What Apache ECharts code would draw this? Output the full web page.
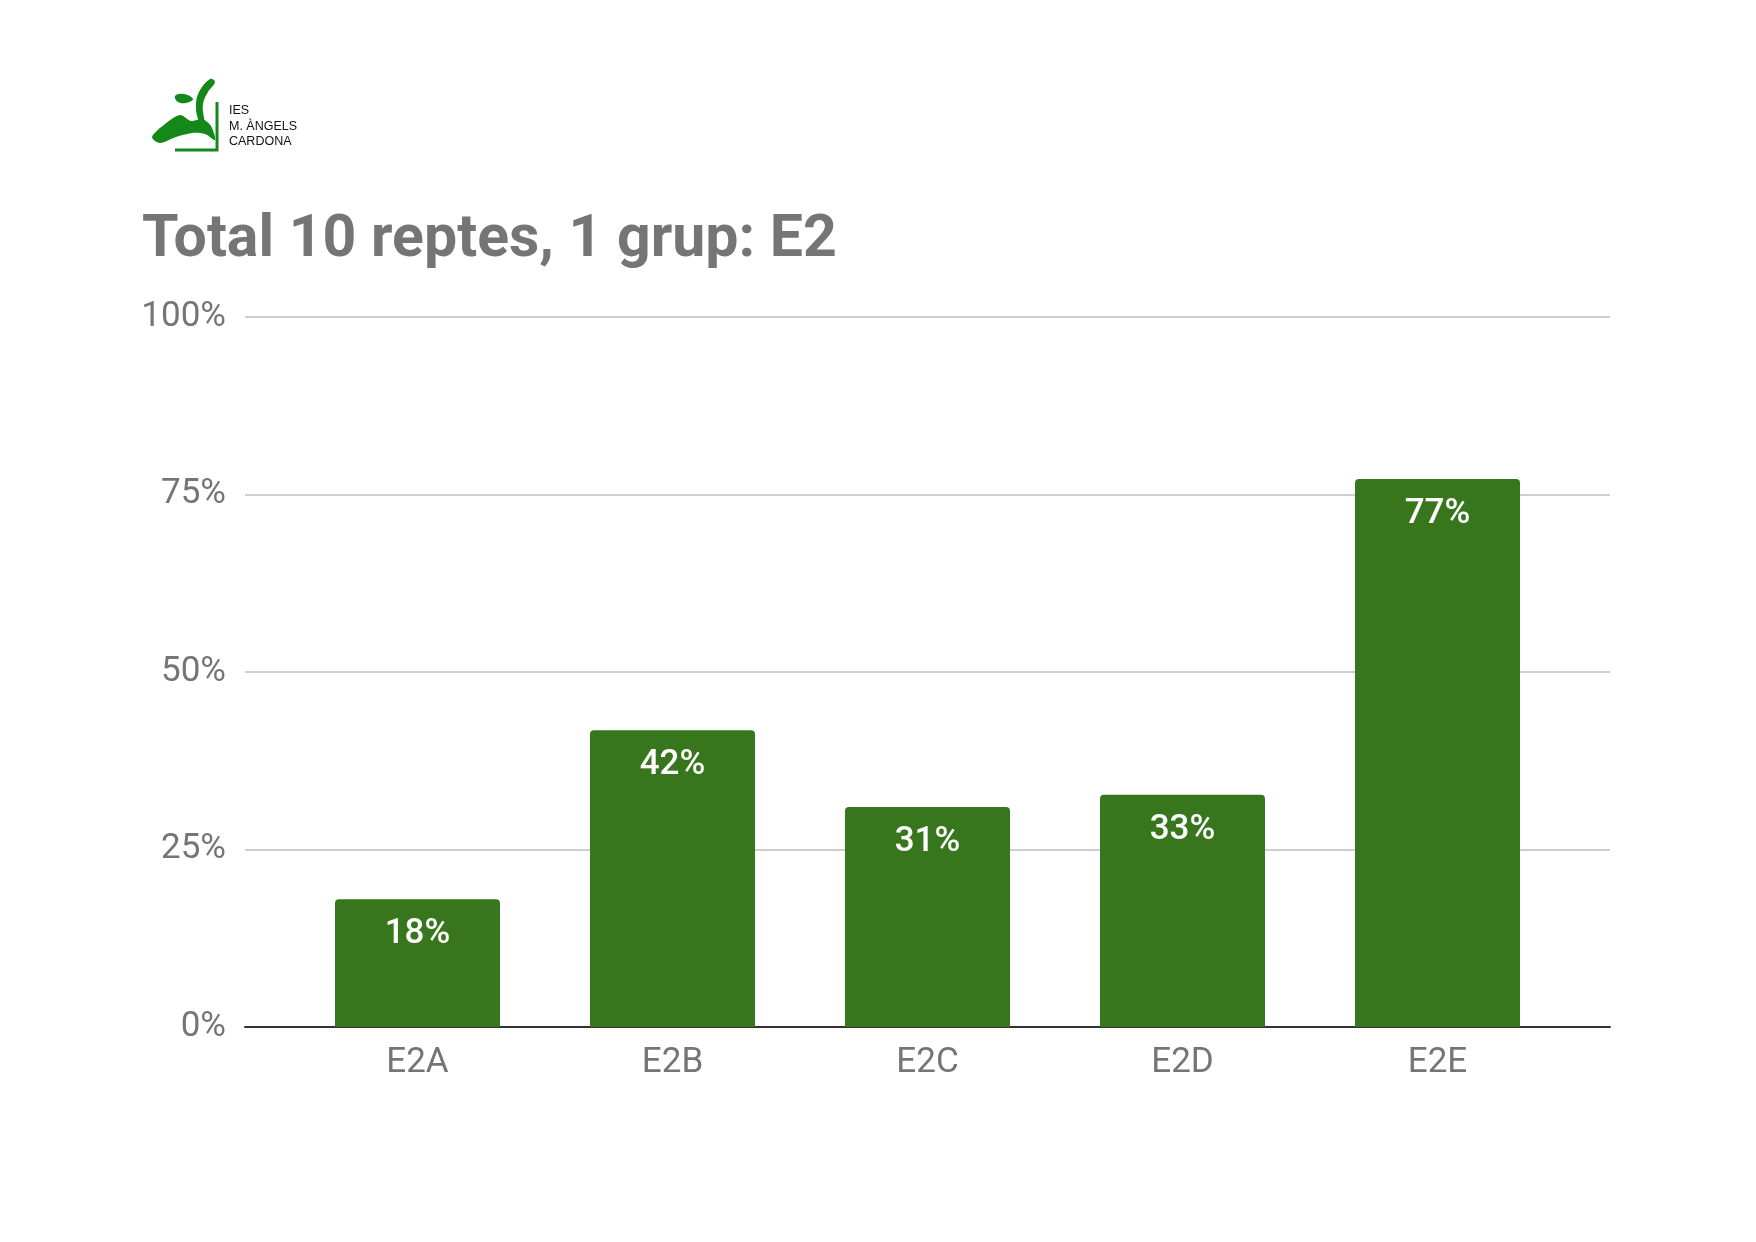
<!DOCTYPE html>
<html>
<head>
<meta charset="utf-8">
<script src="https://cdn.jsdelivr.net/npm/echarts@6/dist/echarts.min.js"></script>
<style>
  html, body { margin: 0; padding: 0; background: #ffffff; }
  #chart { width: 1756px; height: 1242px; }
</style>
</head>
<body>
<div id="chart"></div>
<script>
// Data
const categories = ['E2A', 'E2B', 'E2C', 'E2D', 'E2E'];
const values = [18.0, 41.8, 31.0, 32.7, 77.2];
const yTicks = [0, 25, 50, 75, 100];
const titleText = 'Total 10 reptes, 1 grup: E2';
const logoLines = ['IES', 'M. ÀNGELS', 'CARDONA'];

const chart = echarts.init(document.getElementById('chart'));
const gray = '#757575';
const green = '#38761d';
const logoGreen = '#14891a';
const logoFont = "'Liberation Sans', sans-serif";

const option = {
  backgroundColor: '#ffffff',
  animation: false,
  textStyle: { fontFamily: 'Roboto' },
  title: {
    text: titleText,
    left: 137,
    top: 207,
    textStyle: { fontFamily: 'Roboto', fontWeight: 'bold', fontSize: 59, color: gray }
  },
  grid: [
    { left: 245, right: 146, top: 317, bottom: 215 },
    { left: 290, right: 191, top: 317, bottom: 215 }
  ],
  xAxis: [
    {
      gridIndex: 0, type: 'category', data: categories,
      axisLine: { show: true, lineStyle: { color: '#333333', width: 2 } },
      axisTick: { show: false }, axisLabel: { show: false }, splitLine: { show: false }
    },
    {
      gridIndex: 1, type: 'category', data: categories,
      axisLine: { show: false }, axisTick: { show: false },
      axisLabel: { show: true, color: gray, fontSize: 35, fontFamily: 'Roboto', margin: 19 }
    }
  ],
  yAxis: [
    {
      gridIndex: 0, type: 'value', min: 0, max: 100, interval: 25,
      axisLine: { show: false }, axisTick: { show: false },
      axisLabel: { color: gray, fontSize: 35, fontFamily: 'Roboto', margin: 19,
        padding: [10, 0, 0, 0],
        formatter: v => yTicks.includes(v) ? v + '%' : '' },
      splitLine: { show: true, lineStyle: { color: '#cfcfcf', width: 2 } }
    },
    {
      gridIndex: 1, type: 'value', min: 0, max: 100, interval: 25, show: false,
      splitLine: { show: false }
    }
  ],
  series: [
    {
      type: 'bar',
      xAxisIndex: 1, yAxisIndex: 1,
      data: values,
      barWidth: 165,
      itemStyle: { color: green, borderRadius: [4, 4, 0, 0] },
      label: {
        show: true, position: 'insideTop', distance: 18,
        color: '#ffffff', fontSize: 35, fontWeight: 500, fontFamily: 'Roboto',
        formatter: p => Math.round(p.value) + '%'
      },
      z: 2
    }
  ],
  graphic: [
    // logo bracket
    { type: 'polyline', shape: { points: [[217, 102], [217, 150], [175, 150]] },
      style: { stroke: logoGreen, lineWidth: 3, fill: null } },
    // curved brush stroke
    { type: 'polygon', shape: { smooth: 0.4, points: [[210, 79], [215, 82], [208, 92], [203, 104], [204, 118], [207, 131], [199, 121], [196, 107], [199, 92]] },
      style: { fill: logoGreen } },
    // small dab
    { type: 'polygon', shape: { smooth: 0.4, points: [[175, 96], [184, 94], [193, 99], [186, 103], [178, 102]] },
      style: { fill: logoGreen } },
    // wing shape
    { type: 'polygon', shape: { smooth: 0.3, points: [[152, 137], [165, 124], [180, 115], [191, 121], [202, 119], [211, 126], [215, 140], [205, 134], [192, 133], [176, 137], [160, 143]] },
      style: { fill: logoGreen } },
    { type: 'text', left: 229, top: 104, style: { text: logoLines[0], fontFamily: logoFont, fontSize: 12.5, fill: '#111111' } },
    { type: 'text', left: 229, top: 120, style: { text: logoLines[1], fontFamily: logoFont, fontSize: 12.5, fill: '#111111' } },
    { type: 'text', left: 229, top: 135, style: { text: logoLines[2], fontFamily: logoFont, fontSize: 12.5, fill: '#111111' } }
  ]
};
chart.setOption(option);
</script>
</body>
</html>
